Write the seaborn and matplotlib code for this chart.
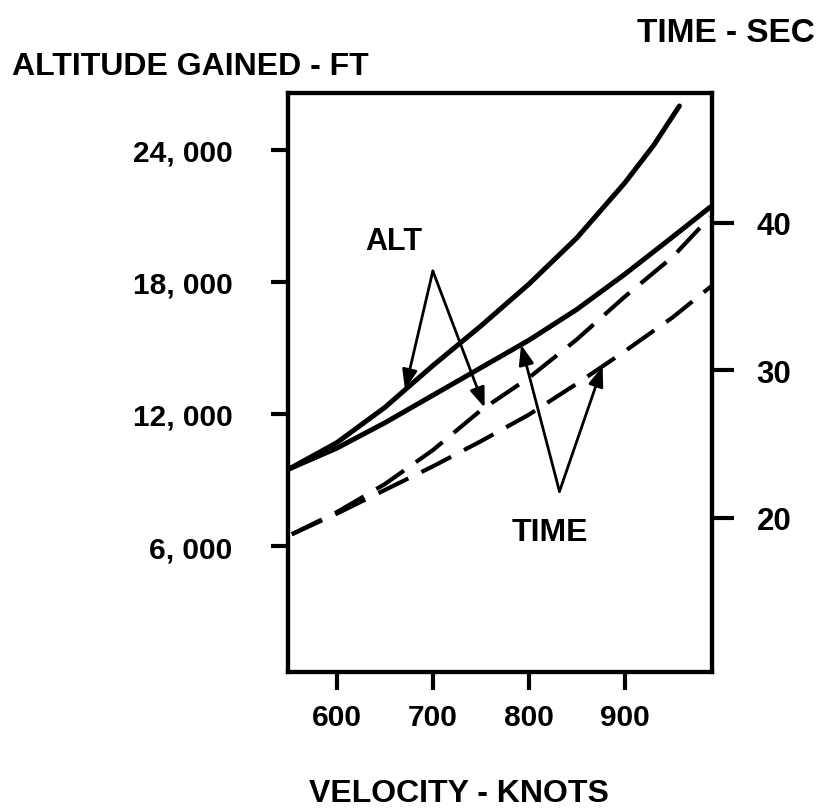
import numpy as np
import matplotlib
matplotlib.use('Agg')
import matplotlib.pyplot as plt
import seaborn as sns

# Werte aus dem Scan abgelesen
# ALT-Kurven (linke Achse, ft)
vel_alt_hi = [550, 600, 650, 700, 750, 800, 850, 900, 930, 957]
alt_hi = [9500, 10700, 12300, 14200, 16000, 17900, 20000, 22500, 24200, 26000]

vel_alt_lo = [550, 600, 650, 700, 750, 800, 850, 900, 950, 989]
alt_lo = [9500, 10450, 11600, 12850, 14100, 15350, 16750, 18350, 20050, 21400]

# TIME-Kurven (rechte Achse, sec)
vel_time_hi = [553, 600, 650, 700, 750, 800, 850, 900, 950, 989]
time_hi = [18.9, 20.4, 22.3, 24.6, 27.3, 29.5, 32.1, 35.0, 37.7, 40.4]

vel_time_lo = [553, 600, 650, 700, 750, 800, 850, 900, 950, 990]
time_lo = [18.9, 20.3, 21.9, 23.5, 25.2, 27.0, 29.1, 31.3, 33.6, 35.7]

alt_ticks = [6000, 12000, 18000, 24000]
alt_labels = ['6, 000', '12, 000', '18, 000', '24, 000']
time_ticks = [20, 30, 40]
time_labels = ['20', '30', '40']
vel_ticks = [600, 700, 800, 900]
vel_labels = ['600', '700', '800', '900']

sns.set_style('white', {'text.color': 'black', 'xtick.color': 'black',
                        'ytick.color': 'black', 'axes.edgecolor': 'black'})
plt.rcParams['font.family'] = ['Liberation Sans', 'DejaVu Sans']
plt.rcParams['font.weight'] = 'bold'

fig = plt.figure(figsize=(8.31, 8.12), dpi=100)
ax = fig.add_axes([288 / 831, 1 - 673 / 812, 424 / 831, 579 / 812])
ax2 = ax.twinx()

# durchgezogene Linien = Höhe
sns.lineplot(x=vel_alt_hi, y=alt_hi, ax=ax, color='black', linewidth=3.6)
sns.lineplot(x=vel_alt_lo, y=alt_lo, ax=ax, color='black', linewidth=3.6)

# gestrichelt = Zeit
sns.lineplot(x=vel_time_hi, y=time_hi, ax=ax2, color='black', linewidth=3,
             linestyle=(0, (8, 3.5)))
sns.lineplot(x=vel_time_lo, y=time_lo, ax=ax2, color='black', linewidth=3,
             linestyle=(0, (8, 3.5)))

ax.set_xlim(549, 991)
ax.set_ylim(273, 26590)
ax2.set_ylim(9.56, 48.81)

ax.set_xticks(vel_ticks, vel_labels)
ax.set_yticks(alt_ticks, alt_labels)
ax2.set_yticks(time_ticks, time_labels)
ax.set_xlabel('')
ax.set_ylabel('')
ax2.set_ylabel('')

ax.tick_params(axis='y', direction='out', length=12, width=3, pad=28,
               labelsize=21.5, left=True, right=False)
ax.tick_params(axis='x', direction='out', length=13, width=3, pad=9,
               labelsize=21.5, bottom=True)
ax2.tick_params(axis='y', direction='out', length=16, width=3, pad=16,
                labelsize=22.5, right=True, left=False)

for a in (ax, ax2):
    for s in a.spines.values():
        s.set_linewidth(3)
        s.set_color('black')

# Pfeile
arrow = dict(arrowstyle='-|>,head_length=0.8,head_width=0.3', color='black',
             lw=2, mutation_scale=15, shrinkA=0, shrinkB=0)

alt_apex = (700, 18500)
ax2.annotate('', xy=(671, np.interp(671, vel_alt_hi, alt_hi)), xycoords=ax.transData,
             xytext=alt_apex, textcoords=ax.transData, arrowprops=arrow)
ax2.annotate('', xy=(754, np.interp(754, vel_time_hi, time_hi)), xycoords=ax2.transData,
             xytext=alt_apex, textcoords=ax.transData, arrowprops=arrow)

time_apex = (832, 21.8)
ax2.annotate('', xy=(792, np.interp(792, vel_alt_lo, alt_lo)), xycoords=ax.transData,
             xytext=time_apex, textcoords=ax2.transData, arrowprops=arrow)
ax2.annotate('', xy=(877, np.interp(877, vel_time_lo, time_lo)), xycoords=ax2.transData,
             xytext=time_apex, textcoords=ax2.transData, arrowprops=arrow)

ax2.text(365 / 831, 1 - 250 / 812, 'ALT', transform=fig.transFigure,
         fontsize=22, ha='left', va='baseline')
ax2.text(512 / 831, 1 - 541 / 812, 'TIME', transform=fig.transFigure,
         fontsize=23, ha='left', va='baseline')

fig.text(12 / 831, 1 - 75 / 812, 'ALTITUDE GAINED - FT', fontsize=23,
         ha='left', va='baseline')
fig.text(637 / 831, 1 - 42 / 812, 'TIME - SEC', fontsize=24,
         ha='left', va='baseline')
fig.text(459 / 831, 1 - 802 / 812, 'VELOCITY - KNOTS', fontsize=23,
         ha='center', va='baseline')

fig.savefig('out.png', dpi=100, facecolor='white')
